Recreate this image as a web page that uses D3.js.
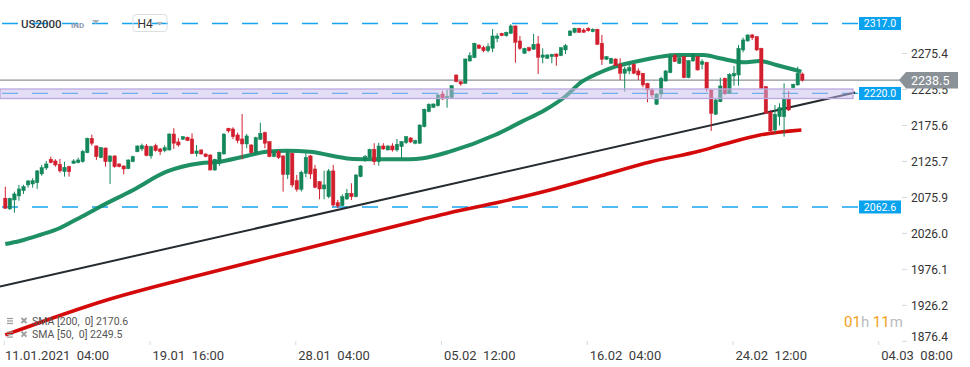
<!DOCTYPE html>
<html><head><meta charset="utf-8">
<script src="https://cdn.jsdelivr.net/npm/d3@7/dist/d3.min.js"></script>
<style>body{margin:0;background:#fff}svg{display:block;font-family:Roboto,"Open Sans",sans-serif}</style>
</head><body><svg id="c" width="970" height="367"></svg>
<script>
// ---------- data ----------
const open=[2074.7,2059.9,2072.4,2077.9,2085.3,2093.2,2094.5,2096.3,2108.4,2116.7,2128.8,2126.4,2121.8,2111.6,2118.5,2123.2,2124.1,2125.4,2137.9,2157.9,2147.2,2131.0,2144.4,2125.4,2133.4,2122.3,2119.5,2115.7,2125.4,2139.3,2143.1,2147.2,2133.4,2147.6,2143.1,2140.7,2141.7,2163.8,2152.8,2156.5,2159.3,2156.9,2136.5,2141.7,2136.1,2134.7,2113.9,2123.2,2136.1,2171.8,2170.8,2162.5,2156.9,2150.0,2148.6,2137.1,2156.5,2165.7,2153.2,2132.4,2139.3,2133.4,2107.4,2137.1,2099.1,2087.2,2109.4,2133.4,2115.3,2097.7,2087.6,2076.9,2112.6,2068.6,2064.4,2073.7,2081.6,2076.9,2104.7,2126.8,2131.5,2142.6,2125.4,2147.2,2141.7,2147.2,2141.7,2146.2,2151.8,2158.3,2151.0,2151.0,2174.0,2194.8,2200.8,2203.1,2219.3,2213.3,2214.2,2245.6,2236.3,2234.1,2265.0,2269.6,2287.2,2284.0,2279.3,2282.6,2296.5,2303.4,2300.1,2303.4,2313.6,2292.8,2275.7,2283.5,2281.3,2288.6,2270.2,2268.8,2271.0,2274.7,2272.4,2280.3,2300.1,2304.8,2310.4,2308.0,2310.4,2305.7,2309.0,2289.6,2267.4,2261.8,2267.8,2260.5,2248.0,2251.2,2260.5,2251.2,2248.0,2234.1,2224.8,2205.0,2219.3,2237.3,2248.8,2272.4,2261.8,2271.0,2241.9,2265.0,2271.0,2260.5,2263.2,2224.8,2191.2,2208.6,2241.1,2220.3,2244.2,2245.6,2280.3,2292.8,2301.1,2298.7,2282.6,2229.4,2193.9,2169.4,2187.8,2187.8,2212.4,2228.0,2231.8,2247.0];
const high=[2090.8,2075.5,2083.9,2093.2,2093.2,2100.1,2102.4,2113.9,2120.9,2126.4,2132.4,2128.8,2129.2,2125.4,2119.9,2128.8,2131.0,2141.7,2158.7,2162.9,2148.0,2145.8,2145.0,2134.0,2134.0,2123.0,2120.2,2128.5,2133.8,2148.0,2150.4,2150.0,2147.6,2150.4,2144.4,2148.2,2164.8,2171.8,2157.9,2161.1,2160.1,2164.8,2148.6,2142.5,2137.0,2135.5,2129.5,2139.3,2164.5,2172.4,2173.1,2165.7,2191.6,2163.8,2149.5,2160.1,2179.5,2167.0,2154.0,2140.0,2141.7,2134.0,2140.7,2138.0,2107.0,2113.0,2137.1,2134.7,2120.9,2098.5,2113.0,2115.3,2120.9,2072.4,2080.3,2087.6,2095.5,2108.0,2120.5,2134.7,2143.5,2151.0,2151.8,2151.0,2148.0,2151.0,2156.9,2154.0,2161.1,2159.3,2156.0,2177.0,2199.0,2206.4,2206.4,2219.3,2223.5,2224.8,2231.5,2246.3,2237.0,2268.5,2277.1,2290.3,2288.0,2286.2,2289.6,2309.4,2303.4,2304.2,2305.7,2315.9,2314.3,2299.7,2283.4,2284.9,2302.5,2299.7,2282.6,2274.2,2275.0,2275.4,2284.2,2288.6,2308.0,2311.2,2311.0,2310.4,2311.8,2310.4,2309.7,2301.1,2272.0,2269.5,2268.5,2268.8,2257.1,2259.5,2261.8,2254.9,2248.6,2234.8,2227.2,2220.0,2243.3,2252.6,2275.7,2274.7,2271.0,2271.5,2266.2,2275.7,2272.0,2267.4,2264.0,2225.5,2212.4,2241.9,2241.9,2248.0,2258.1,2287.2,2297.4,2302.0,2302.5,2299.5,2283.4,2230.0,2197.1,2204.0,2206.4,2234.1,2223.5,2233.5,2257.1,2249.0];
const low=[2059.9,2058.5,2054.7,2071.4,2080.7,2089.4,2089.4,2087.6,2106.0,2113.9,2123.2,2118.5,2110.2,2104.7,2104.7,2122.3,2123.2,2124.1,2137.1,2147.6,2127.8,2130.2,2118.5,2094.5,2117.1,2117.5,2108.0,2115.0,2124.6,2138.5,2140.3,2132.9,2129.6,2139.3,2134.7,2138.5,2140.7,2143.1,2146.2,2155.5,2154.2,2136.0,2132.4,2135.3,2131.6,2113.2,2112.6,2119.5,2135.3,2165.7,2156.5,2151.0,2128.8,2144.0,2137.0,2134.7,2155.5,2144.0,2131.6,2131.6,2129.2,2083.9,2101.5,2089.9,2083.9,2083.9,2103.8,2101.5,2088.6,2073.3,2073.3,2074.7,2063.1,2060.9,2064.0,2072.4,2072.4,2076.0,2103.8,2125.4,2130.5,2120.9,2119.9,2141.7,2141.0,2139.3,2139.3,2128.8,2150.0,2151.4,2149.6,2150.0,2173.0,2193.9,2200.0,2201.7,2211.0,2200.3,2213.5,2235.5,2230.8,2233.4,2264.1,2268.9,2282.0,2277.1,2277.1,2277.1,2291.0,2299.4,2298.7,2302.5,2262.7,2280.3,2275.0,2277.9,2280.3,2247.0,2261.8,2268.0,2261.8,2258.5,2271.7,2274.7,2300.0,2303.4,2304.0,2304.2,2305.7,2304.8,2287.5,2259.5,2266.5,2261.0,2258.0,2238.7,2222.5,2246.6,2246.6,2238.7,2228.6,2207.8,2214.2,2204.2,2214.2,2236.3,2248.0,2264.0,2260.9,2241.1,2241.1,2264.1,2251.6,2253.5,2222.5,2168.0,2190.2,2207.8,2217.9,2219.3,2230.8,2230.8,2277.1,2291.8,2294.2,2278.9,2226.5,2192.0,2162.5,2164.8,2175.4,2160.1,2195.7,2227.3,2230.8,2236.4];
const close=[2060.9,2074.7,2080.7,2087.6,2090.8,2098.7,2099.1,2112.6,2117.1,2122.3,2124.1,2120.9,2112.6,2117.7,2111.6,2126.4,2127.8,2139.9,2157.9,2151.0,2132.4,2144.9,2125.4,2133.4,2118.5,2118.5,2115.3,2127.8,2132.4,2147.2,2147.6,2133.8,2146.2,2140.7,2139.3,2144.9,2163.8,2151.0,2148.6,2160.1,2154.6,2136.5,2140.3,2136.1,2132.4,2113.9,2128.8,2138.5,2163.8,2168.0,2160.1,2154.6,2150.0,2161.1,2137.9,2158.7,2164.8,2151.0,2132.4,2139.3,2131.0,2108.0,2137.9,2093.2,2087.2,2110.8,2131.5,2108.4,2089.9,2087.6,2093.2,2112.6,2065.4,2064.0,2076.9,2081.6,2076.9,2107.0,2119.5,2132.4,2142.6,2125.4,2147.2,2143.1,2147.2,2141.7,2149.6,2153.2,2160.1,2152.8,2154.6,2176.3,2198.1,2205.0,2205.4,2217.9,2212.4,2215.5,2230.8,2236.3,2233.2,2267.8,2272.4,2289.6,2282.6,2279.3,2284.9,2299.7,2299.7,2300.1,2304.8,2313.6,2291.0,2282.6,2282.6,2279.3,2288.2,2270.2,2273.4,2273.4,2274.3,2271.0,2283.5,2286.2,2306.6,2310.4,2304.8,2304.8,2307.0,2309.0,2288.2,2267.4,2271.0,2268.8,2258.5,2248.0,2253.9,2255.8,2248.0,2245.6,2231.8,2224.8,2217.9,2219.3,2241.1,2251.2,2271.0,2264.1,2269.6,2241.9,2265.5,2274.7,2252.6,2264.1,2227.2,2192.5,2211.0,2230.4,2220.3,2246.6,2248.0,2282.6,2294.2,2301.1,2297.3,2280.3,2227.2,2192.5,2168.0,2191.2,2200.3,2212.4,2197.1,2232.7,2248.0,2238.5];

const sma50Idx=[0,3.2,7.6,12,15.7,20.8,28.1,35.4,42.8,47.1,52.2,57.4,61.8,66.9,72,76.4,80.7,88.9,91.7,97.6,107.5,113.4,118.5,122.9,126.6,130.2,133.9,140.1,147.4,153.3,156.9,162,165.7,169.3,174.8];
const sma50=[2011.3,2015.5,2023.8,2033.5,2045.6,2063.0,2086.2,2111.5,2123.2,2125.4,2132.3,2139.3,2140.7,2139.3,2133.3,2129.2,2128.7,2128.7,2130.1,2139.3,2162.4,2180.9,2197.1,2215.5,2236.3,2248.0,2257.1,2266.4,2273.3,2273.3,2268.7,2263.2,2265.0,2259.5,2250.2];
const sma200Idx=[0,22.3,42.8,64.7,91.1,97.6,108.6,119.6,130.6,141.6,152.5,157.7,165.7,174.8];
const sma200=[1885.2,1933.7,1968.4,2003.0,2044.6,2054.7,2069.5,2086.2,2105.6,2125.0,2140.2,2149.5,2162.4,2169.4];

const trendIdx=[-1.16,186.6];
const trendVal=[1952.4,2221.3];
const zoneVal=[2213.0,2226.2];
const levels=[2317.0,2220.0,2062.6];
const lastPrice=2238.5;

const yTicks=[2275.4,2225.5,2175.6,2125.7,2075.9,2026.0,1976.1,1926.2,1876.4];
const xTickIdx=[0,32,64,96,128,160,192];
const xTickLabels=["11.01.2021  04:00","19.01  16:00","28.01  04:00","05.02  12:00","16.02  04:00","24.02  12:00","04.03  08:00"];
const legendLabels=["SMA [200,  0] 2170.6","SMA [50,  0] 2249.5"];

// ---------- drawing ----------
const svg=d3.select("#c");
const x=d3.scaleLinear().domain([0,175]).range([5.3,802.3]);
const y=d3.scaleLinear().domain([1876.4,2275.4]).range([341.3,53.5]);
const GREEN="#13875a", RED="#d21f2e", BLUE="#17a4ee";

// horizontal levels (dashed)
const lv=svg.append("g");
levels.forEach(v=>{
  lv.append("line").attr("x1",2).attr("x2",858).attr("y1",y(v)).attr("y2",y(v))
    .attr("stroke",BLUE).attr("stroke-width",1.3).attr("stroke-dasharray","16,14");
});
// current price line
svg.append("line").attr("x1",0).attr("x2",900).attr("y1",y(lastPrice)).attr("y2",y(lastPrice))
  .attr("stroke","#8d9398").attr("stroke-width",1.2);

// trend line
svg.append("line").attr("x1",x(trendIdx[0])).attr("y1",y(trendVal[0]))
  .attr("x2",x(trendIdx[1])).attr("y2",y(trendVal[1]))
  .attr("stroke","#262b30").attr("stroke-width",2);

// SMA lines
const line=d3.line().curve(d3.curveMonotoneX);
svg.append("path").attr("d",line(sma200Idx.map((d,i)=>[x(d),y(sma200[i])])))
  .attr("fill","none").attr("stroke","#d40a0a").attr("stroke-width",3.5);
svg.append("path").attr("d",line(sma50Idx.map((d,i)=>[x(d),y(sma50[i])])))
  .attr("fill","none").attr("stroke","#128a5c").attr("stroke-width",4).attr("stroke-opacity",0.95);

// candles
const cg=svg.append("g");
open.forEach((o,i)=>{
  const c=close[i], col=c>=o?GREEN:RED, cx=x(i);
  cg.append("line").attr("x1",cx).attr("x2",cx).attr("y1",y(high[i])).attr("y2",y(low[i]))
    .attr("stroke",col).attr("stroke-width",1);
  const top=y(Math.max(o,c)), bot=y(Math.min(o,c));
  cg.append("rect").attr("x",cx-1.7).attr("width",3.4).attr("y",top).attr("height",Math.max(1,bot-top))
    .attr("fill",col).attr("stroke",col).attr("stroke-width",0.5);
});

// zone band
svg.append("rect").attr("x",0).attr("width",853).attr("y",y(zoneVal[1])).attr("height",y(zoneVal[0])-y(zoneVal[1]))
  .attr("fill","rgba(200,188,236,0.5)").attr("stroke","#baa8de").attr("stroke-width",1.3);

// y axis
const ya=svg.append("g");
yTicks.forEach(v=>{
  const yy=Math.min(y(v),337);
  ya.append("line").attr("x1",902).attr("x2",907).attr("y1",y(v)).attr("y2",y(v)).attr("stroke","#d5d8db");
  ya.append("text").attr("x",911).attr("y",yy).attr("dy","0.35em").attr("font-size",12).attr("fill","#333").text(v.toFixed(1));
});

// level labels
levels.forEach(v=>{
  const g=svg.append("g");
  g.append("rect").attr("x",859).attr("y",y(v)-6.5).attr("width",42).attr("height",13).attr("fill","#09a2ef");
  g.append("text").attr("x",880).attr("y",y(v)).attr("dy","0.35em").attr("text-anchor","middle")
    .attr("font-size",10.5).attr("fill","#fff").text(v.toFixed(1));
});
// last price label
const ly=y(lastPrice);
svg.append("path").attr("d",`M899,${ly} L906,${ly-8} L958,${ly-8} L958,${ly+8.5} L906,${ly+8.5} Z`).attr("fill","#8a9298");
svg.append("text").attr("x",911).attr("y",ly).attr("dy","0.37em").attr("font-size",12.5).attr("fill","#fff").text(lastPrice.toFixed(1));

// x axis
xTickIdx.forEach((t,i)=>{
  const xx=x(t);
  svg.append("line").attr("x1",xx-1).attr("x2",xx-1).attr("y1",341).attr("y2",345).attr("stroke","#d8dadc");
  svg.append("text").attr("x",i===0?5:xx+1.5).attr("y",355).attr("dy","0.35em").attr("font-size",13)
    .attr("fill","#3c3c3c").style("white-space","pre").text(xTickLabels[i]);
});

// header
svg.append("text").attr("x",21).attr("y",28).attr("font-size",11.5).attr("font-weight",500).attr("fill","#2f363c").text("US2000");
svg.append("text").attr("x",71).attr("y",27.5).attr("font-size",8).attr("font-weight",700).attr("fill","#8e9aae").text("IND");
svg.append("path").attr("d","M92,20 L99.5,20 L95.75,24 Z").attr("fill","#aab2bd");
svg.append("rect").attr("x",133).attr("y",14.5).attr("width",34).attr("height",17).attr("rx",3).attr("fill","none").attr("stroke","#dcdfe2");
svg.append("text").attr("x",137.5).attr("y",28).attr("font-size",12).attr("fill","#333").text("H4");
svg.append("path").attr("d","M156,22 L163,22 L159.5,25.5 Z").attr("fill","#aab2bd");

// legend
legendLabels.forEach((t,i)=>{
  const yy=321+i*13.6;
  const g=svg.append("g");
  [-2.5,0,2.5].forEach(d=>g.append("line").attr("x1",7).attr("x2",13).attr("y1",yy+d).attr("y2",yy+d).attr("stroke","#9a9a9a").attr("stroke-width",1.2));
  g.append("path").attr("d",`M21.5,${yy-3} L26.5,${yy+2} M26.5,${yy-3} L21.5,${yy+2}`).attr("stroke","#a0a0a0").attr("stroke-width",2);
  g.append("text").attr("x",32).attr("y",yy).attr("dy","0.35em").attr("font-size",10.5).attr("fill","#555").style("white-space","pre").text(t);
});

// countdown
const cd=svg.append("text").attr("x",844).attr("y",322).attr("dy","0.35em").attr("font-size",15);
cd.append("tspan").attr("fill","#f5a01a").text("01");
cd.append("tspan").attr("fill","#b8bcc0").text("h ");
cd.append("tspan").attr("fill","#f5a01a").text("11");
cd.append("tspan").attr("fill","#b8bcc0").text("m");
</script></body></html>
